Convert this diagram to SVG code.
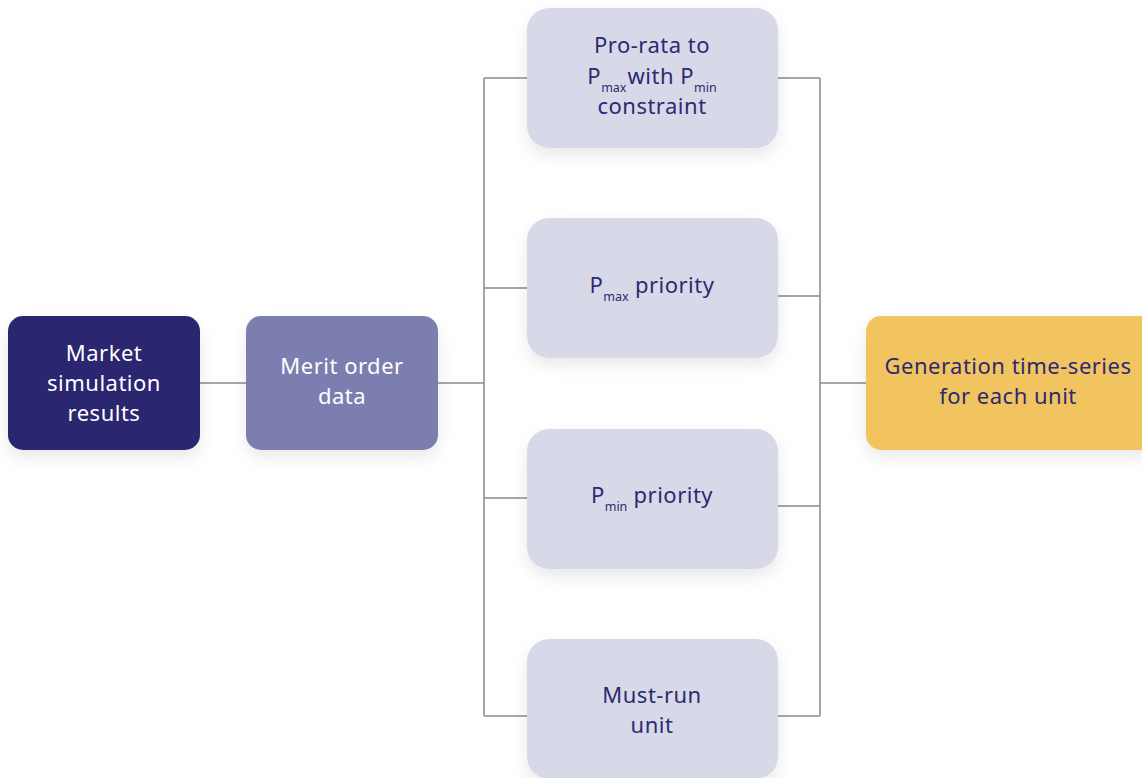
<svg xmlns="http://www.w3.org/2000/svg" width="1142" height="778" viewBox="0 0 1142 778">
<defs>
<filter id="sh" x="-20%" y="-20%" width="140%" height="150%">
<feDropShadow dx="0" dy="7" stdDeviation="8" flood-color="#000" flood-opacity="0.09"/>
</filter>
<style>
.t{font-family:"Noto Sans","DejaVu Sans",sans-serif;font-size:22px;letter-spacing:0.5px;text-anchor:middle}
.w{fill:#ffffff}
.d{fill:#2b2a72}
.s{font-size:12.5px;letter-spacing:0}
.c{fill:none;stroke:#8a8a8a;stroke-width:1.5}
</style>
</defs>
<rect width="1142" height="778" fill="#ffffff"/>
<g id="connectors">
<path class="c" d="M200 383H246M438 383H484M484 78V716M484 78H527M484 288H527M484 498H527M484 716H527"/>
<path class="c" d="M778 78H820M778 296H820M778 506H820M778 716H820M820 78V716M820 383H866"/>
</g>
<g id="market">
<rect x="8" y="316" width="192" height="134" rx="15" fill="#2b2870" filter="url(#sh)"/>
<text class="t w" x="104" y="361">Market</text>
<text class="t w" x="104" y="391">simulation</text>
<text class="t w" x="104" y="421">results</text>
</g>
<g id="merit">
<rect x="246" y="316" width="192" height="134" rx="15" fill="#7b7eb0" filter="url(#sh)"/>
<text class="t w" x="342" y="374">Merit order</text>
<text class="t w" x="342" y="404">data</text>
</g>
<g id="prorata">
<rect x="527" y="8" width="251" height="140" rx="22" fill="#d8d9e8" filter="url(#sh)"/>
<text class="t d" x="652" y="53">Pro-rata to</text>
<text class="t d" x="652" y="84">P<tspan class="s" dy="8">max</tspan><tspan dy="-8" dx="1">with P</tspan><tspan class="s" dy="8">min</tspan></text>
<text class="t d" x="652" y="114">constraint</text>
</g>
<g id="pmax">
<rect x="527" y="218" width="251" height="140" rx="22" fill="#d8d9e8" filter="url(#sh)"/>
<text class="t d" x="652" y="293">P<tspan class="s" dy="8">max</tspan><tspan dy="-8"> priority</tspan></text>
</g>
<g id="pmin">
<rect x="527" y="429" width="251" height="140" rx="22" fill="#d8d9e8" filter="url(#sh)"/>
<text class="t d" x="652" y="503">P<tspan class="s" dy="8">min</tspan><tspan dy="-8"> priority</tspan></text>
</g>
<g id="mustrun">
<rect x="527" y="639" width="251" height="140" rx="22" fill="#d8d9e8" filter="url(#sh)"/>
<text class="t d" x="652" y="703">Must-run</text>
<text class="t d" x="652" y="733">unit</text>
</g>
<g id="generation">
<rect x="866" y="316" width="290" height="134" rx="15" fill="#f2c45e" filter="url(#sh)"/>
<text class="t d" x="1008" y="374">Generation time-series</text>
<text class="t d" x="1008" y="404">for each unit</text>
</g>
</svg>
